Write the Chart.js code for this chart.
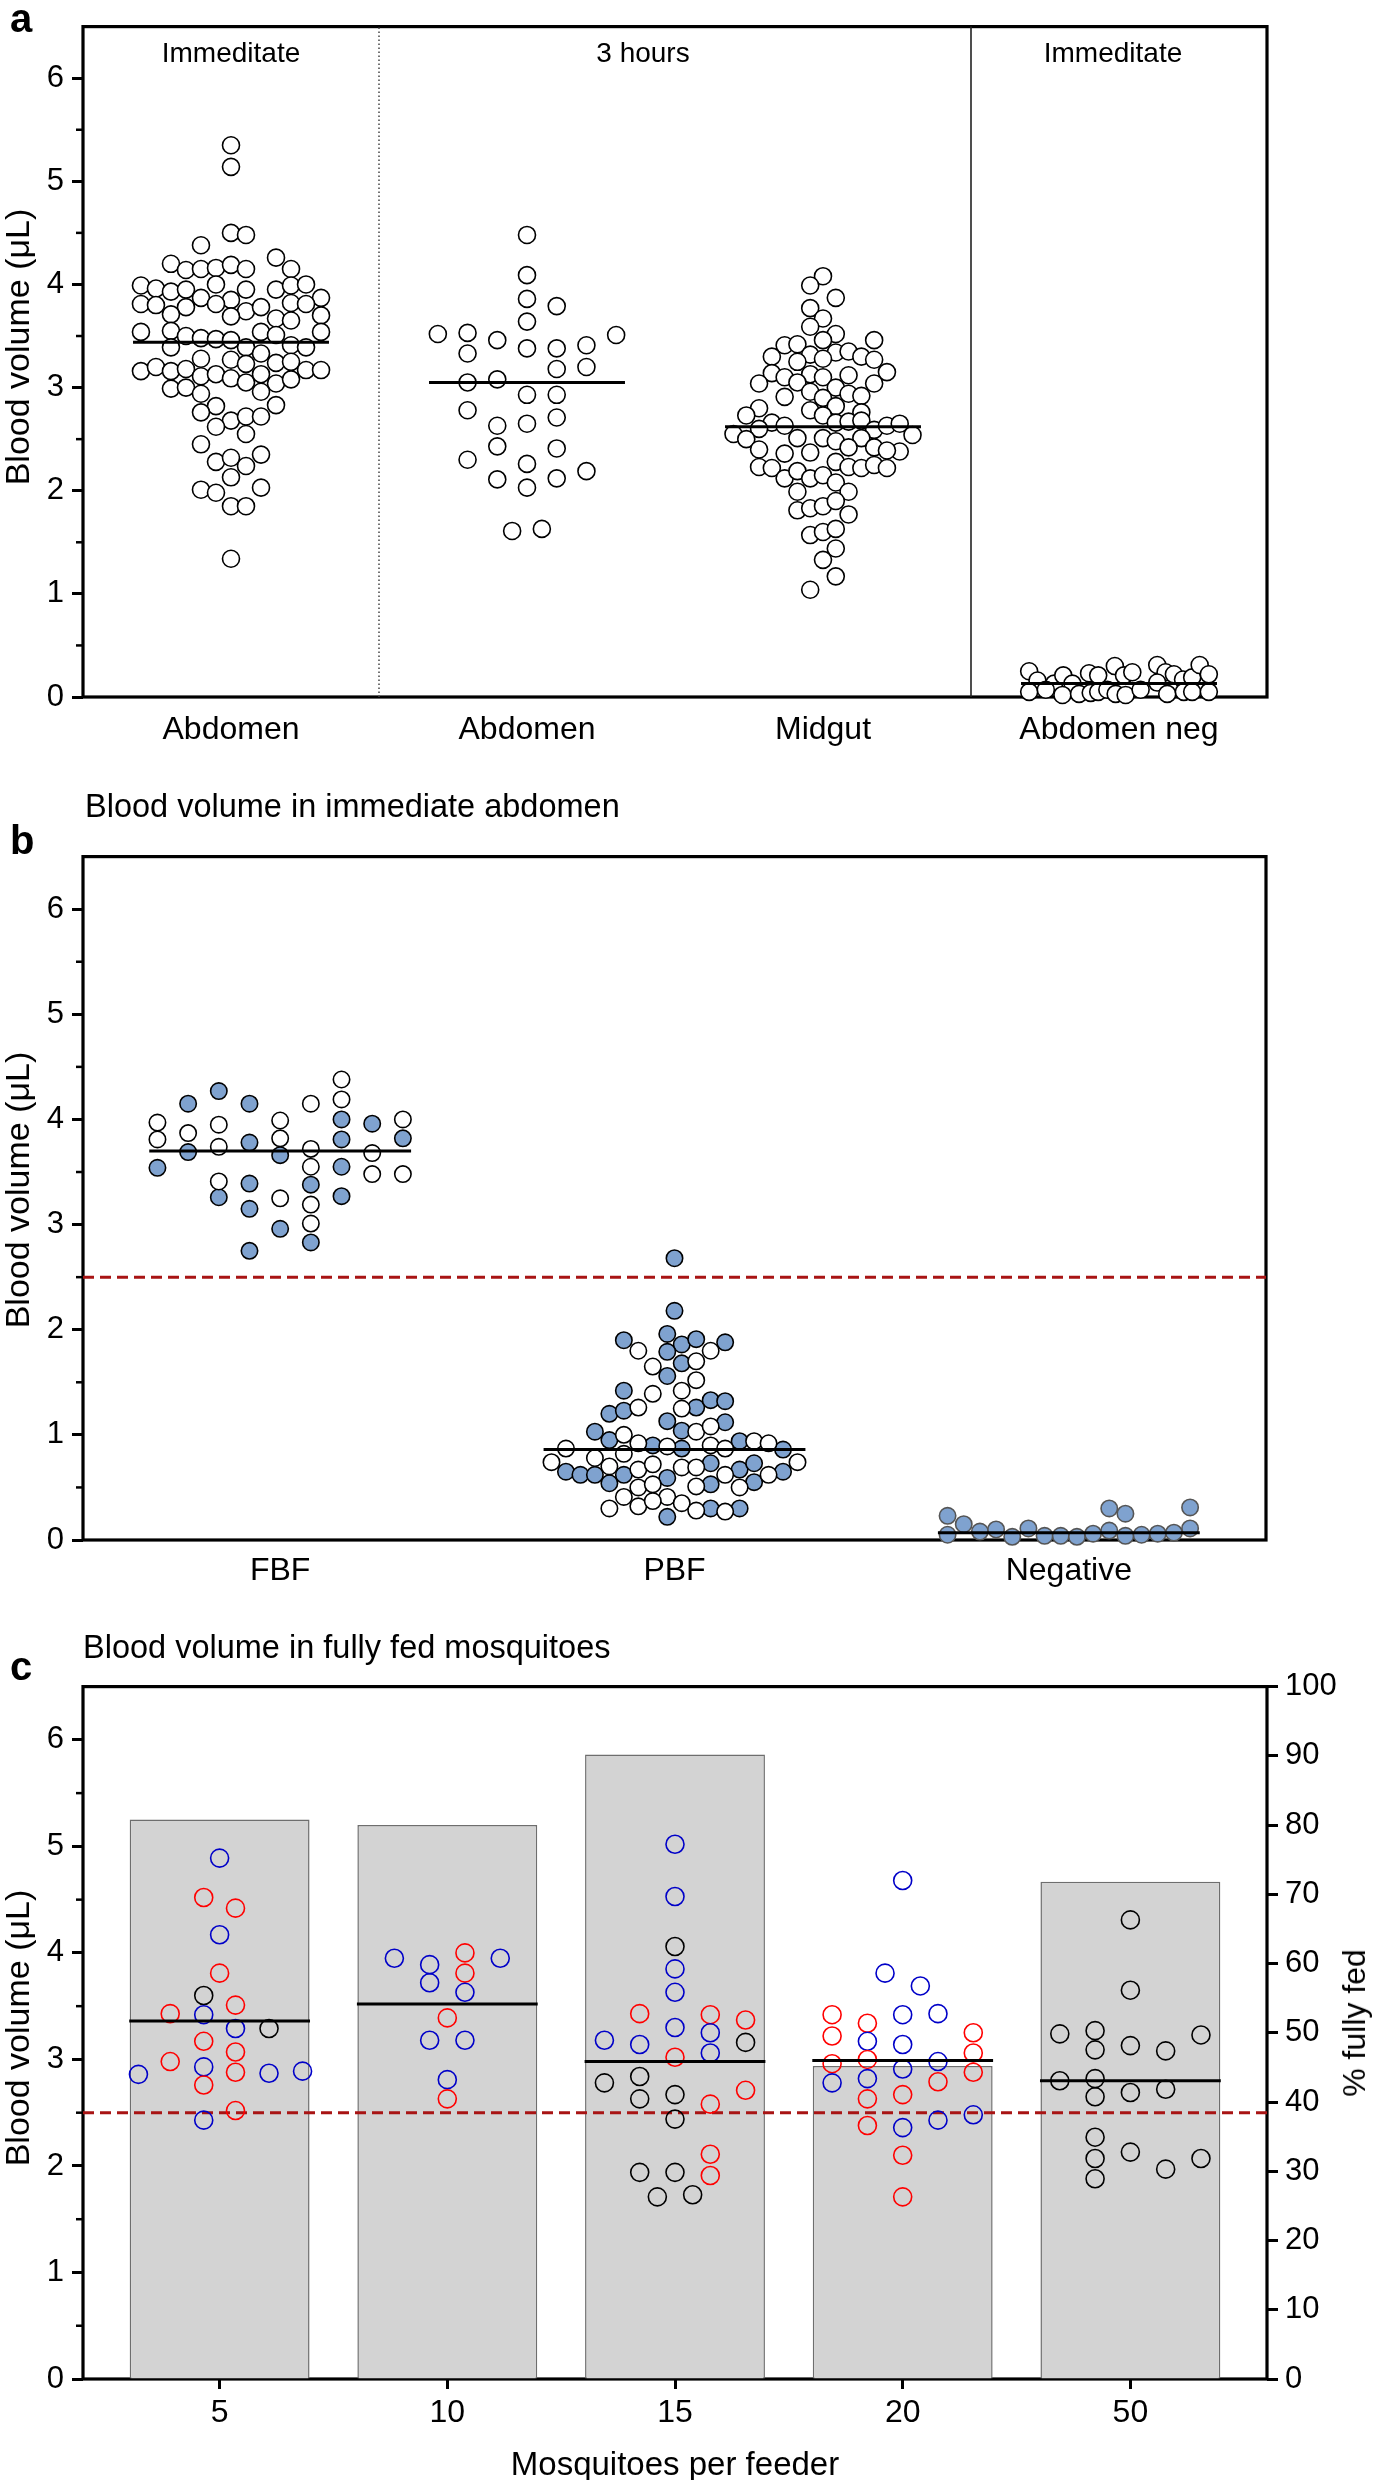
<!DOCTYPE html>
<html>
<head>
<meta charset="utf-8">
<title>Blood volume</title>
<script src="https://cdn.jsdelivr.net/npm/chart.js@4.4.1/dist/chart.umd.min.js"></script>
<style>
html,body{margin:0;padding:0;background:#fff;}
body{position:relative;width:1375px;height:2480px;overflow:hidden;font-family:"Liberation Sans",Arial,Helvetica,sans-serif;color:#000;}
canvas{position:absolute;left:0;}
.t{position:absolute;white-space:nowrap;line-height:1;}
.c{transform:translateX(-50%);}
.panel{font-weight:bold;font-size:40px;}
.rot{transform:translate(-50%,-50%) rotate(-90deg);}
.ytitle{font-size:34px;}
</style>
</head>
<body>
<canvas id="chartA" width="1375" height="790" style="top:0px"></canvas>
<canvas id="chartB" width="1375" height="780" style="top:830px"></canvas>
<canvas id="chartC" width="1375" height="820" style="top:1660px"></canvas>

<div class="t panel" style="left:10px;top:-2px">a</div>
<div class="t c" style="left:231px;top:39px;font-size:28px">Immeditate</div>
<div class="t c" style="left:643px;top:39px;font-size:28px">3 hours</div>
<div class="t c" style="left:1113px;top:39px;font-size:28px">Immeditate</div>
<div class="t rot ytitle" style="left:17px;top:347px">Blood volume (μL)</div>

<div class="t" style="left:85px;top:790px;font-size:32.5px">Blood volume in immediate abdomen</div>
<div class="t panel" style="left:10px;top:820px">b</div>
<div class="t rot ytitle" style="left:17px;top:1190px">Blood volume (μL)</div>

<div class="t" style="left:83px;top:1631px;font-size:32.5px">Blood volume in fully fed mosquitoes</div>
<div class="t panel" style="left:10px;top:1646px">c</div>
<div class="t rot ytitle" style="left:17px;top:2028px">Blood volume (μL)</div>
<div class="t rot" style="left:1354px;top:2023px;font-size:32px">% fully fed</div>
<div class="t c" style="left:675px;top:2447px;font-size:33px">Mosquitoes per feeder</div>

<script>
// ================= DATA =================

const yTicks = [0,1,2,3,4,5,6];
const yMinor = [0.5,1.5,2.5,3.5,4.5,5.5];
const pctTicks = [0,10,20,30,40,50,60,70,80,90,100];
const cutoff = 2.5;

// panel a
const catsA = ["Abdomen","Abdomen","Midgut","Abdomen neg"];
const medA = [3.44,3.05,2.62,0.13];
const sepA = [1,3];

const abdImmVals = [5.35,5.14,4.50,4.48,4.38,4.26,4.20,4.14,4.15,4.16,4.19,4.15,4.15,
3.99,3.96,3.93,3.95,4.00,3.95,3.95,3.99,4.00,3.87,
3.81,3.80,3.87,3.85,3.82,3.81,3.78,3.71,3.81,3.74,3.78,3.69,3.67,3.65,3.70,
3.54,3.55,3.50,3.48,3.47,3.46,3.54,3.51,3.54,
3.39,3.39,3.41,3.39,
3.28,3.27,3.23,3.33,3.24,3.25,
3.16,3.20,3.16,3.18,3.11,3.13,3.09,3.05,3.13,3.04,3.08,3.17,3.17,
2.99,3.00,2.94,2.96,
2.82,2.83,2.76,2.68,2.72,2.72,2.62,2.55,
2.45,2.28,2.32,2.24,2.35,2.13,2.01,1.98,2.03,1.85,1.85,1.34];
const abdImmSlots = [0,0,0,1,-2,3,-4,-3,-2,-1,0,1,4,
-6,-5,-4,-3,-1,1,3,4,5,6,
-6,-5,-2,0,4,5,-3,-4,-1,1,2,0,3,4,6,
-6,-4,-3,-2,-1,0,2,3,6,
-4,1,4,5,
-2,0,1,2,3,4,
-6,-5,-4,-3,-2,-1,0,1,2,3,4,5,6,
-4,-3,-2,2,
-1,3,-2,0,1,2,-1,1,
-2,-1,0,1,2,0,-2,-1,2,0,1,0];

const abd3hVals = [4.48,4.09,3.86,3.79,3.64,3.52,3.53,3.51,3.46,3.38,3.38,3.41,3.33,3.18,3.20,3.05,3.08,
2.93,2.93,2.78,2.71,2.63,2.65,2.43,2.41,2.30,2.26,2.11,2.12,2.19,2.03,1.61,1.63];
const abd3hSlots = [0,0,0,2,0,-6,-4,6,-2,0,2,4,-4,2,4,-4,-2,0,2,-4,2,-2,0,-2,2,-4,0,-2,2,4,0,-1,1];

const midgutVals = [4.08,3.99,3.87,3.77,3.67,3.59,3.52,3.46,3.46,3.41,
3.42,3.30,3.32,3.34,3.35,3.30,3.27,3.25,3.28,3.14,
3.10,3.13,3.10,3.12,3.15,3.04,3.05,3.00,3.04,2.96,
2.94,2.92,2.91,2.90,2.80,2.78,2.82,2.73,2.76,2.73,
2.66,2.63,2.66,2.67,2.68,2.59,2.63,2.65,2.55,2.60,
2.51,2.51,2.50,2.48,2.51,2.54,2.40,2.36,2.37,2.42,
2.42,2.38,2.39,2.23,2.22,2.28,2.23,2.22,2.25,2.22,
2.12,2.19,2.12,2.15,2.08,1.99,1.99,1.81,1.83,1.85,
1.90,1.77,1.57,1.60,1.63,1.44,1.33,1.17,1.04];
const midgutSlots = [0,-1,1,-1,0,-1,1,0,4,-3,
-2,-4,-1,1,2,3,4,-2,0,-4,
-3,-1,0,2,5,-5,-2,1,4,-1,
2,3,-3,0,-5,-1,1,0,3,-6,
-4,-3,1,2,3,4,5,6,-7,-5,
-2,0,-6,1,3,7,-5,-3,-1,2,
4,6,5,-5,-4,1,2,3,4,5,
-3,-2,-1,0,1,-2,2,-2,-1,0,
1,2,-1,0,1,1,0,1,-1];

const abdNegVals = [0.25,0.16,0.13,0.21,0.13,0.23,0.21,0.30,0.21,0.24,0.31,0.24,0.22,0.17,0.19,0.31,0.22,
0.05,0.07,0.02,0.03,0.04,0.05,0.07,0.03,0.02,0.07,0.14,0.03,0.05,0.05,0.05];
const abdNegSlots = [-10.8,-9.8,-7.8,-6.7,-5.6,-3.6,-2.5,-0.5,0.6,1.6,4.6,5.6,6.6,7.7,8.8,9.7,10.8,
-10.8,-8.8,-6.8,-4.8,-3.4,-2.5,-1.4,-0.4,0.8,2.6,4.6,5.8,7.8,8.8,10.8];

// panel b
const catsB = ["FBF","PBF","Negative"];
const medB = [3.70,0.86,0.07];

const fbfOpenVals = [3.97,3.81,3.87,3.95,3.74,3.41,3.99,3.82,3.25,4.15,3.72,3.55,3.19,3.01,4.38,4.19,3.68,3.48,4.00,3.48];
const fbfOpenSlots = [-4,-4,-3,-2,-2,-2,0,0,0,1,1,1,1,1,2,2,3,3,4,4];
const fbfBlueVals = [3.54,4.15,3.69,4.27,3.26,4.15,3.78,3.39,3.15,2.75,3.66,2.96,3.38,2.83,4.00,3.81,3.55,3.27,3.96,3.82];
const fbfBlueSlots = [-4,-3,-3,-2,-2,-1,-1,-1,-1,-1,0,0,1,1,2,2,2,2,3,4];

const pbfBlueVals = [2.68,2.18,1.90,1.96,1.86,1.91,1.88,1.79,1.68,1.56,
1.42,1.20,1.23,1.26,1.33,1.32,1.03,0.95,1.13,1.04,
1.12,0.90,0.87,0.94,0.86,0.65,0.62,0.62,0.54,0.62,
0.59,0.73,0.53,0.67,0.73,0.55,0.65,0.22,0.30,0.30];
const pbfBlueSlots = [0,0,-3.5,-0.5,0.5,1.5,3.5,-0.5,0.5,-0.5,
-3.5,-4.5,-3.5,1.5,2.5,3.5,-5.5,-4.5,-0.5,0.5,
3.5,-1.5,0.5,4.5,7.5,-7.5,-6.5,-5.5,-4.5,-3.5,
-0.5,2.5,2.5,4.5,5.5,5.5,7.5,-0.5,2.5,4.5];
const pbfOpenVals = [1.80,1.80,1.65,1.70,1.52,1.39,1.42,1.26,1.25,1.00,
0.92,1.03,1.08,0.87,0.89,0.90,0.87,0.94,0.92,0.74,
0.78,0.70,0.82,0.67,0.50,0.72,0.53,0.41,0.69,0.35,
0.69,0.51,0.62,0.50,0.62,0.74,0.30,0.41,0.32,0.37,
0.28,0.27];
const pbfOpenSlots = [-2.5,2.5,-1.5,1.5,1.5,-1.5,0.5,-2.5,0.5,-3.5,
-2.5,1.5,2.5,-7.5,-0.5,2.5,3.5,5.5,6.5,-8.5,
-5.5,-4.5,-3.5,-2.5,-2.5,-1.5,-1.5,-0.5,0.5,0.5,
1.5,1.5,3.5,4.5,6.5,8.5,-4.5,-3.5,-2.5,-1.5,
1.5,3.5];

const negBVals = [0.23,0.05,0.15,0.08,0.10,0.03,0.11,0.04,0.04,0.03,0.06,0.09,0.30,0.25,0.04,0.05,0.06,0.07,0.31,0.11];
const negBSlots = [-7.5,-7.5,-6.5,-5.5,-4.5,-3.5,-2.5,-1.5,-0.5,0.5,1.5,2.5,2.5,3.5,3.5,4.5,5.5,6.5,7.5,7.5];

// panel c  (rep: r / b / k = replicate feeding)
const feeders = ["5","10","15","20","50"];
const pctFed = [80.8,80.0,90.2,45.2,71.8];
const medC = [3.36,3.52,2.98,2.99,2.80];

const c5Vals = [4.89,4.52,4.42,4.17,3.81,3.60,3.43,3.42,3.51,3.29,3.29,3.17,3.07,2.98,2.93,2.88,2.86,2.87,2.89,2.76,2.52,2.43];
const c5Slots = [0,-0.9,0.9,0,0,-0.9,-2.8,-0.9,0.9,0.9,2.8,-0.9,0.9,-2.8,-0.9,0.9,-4.6,2.8,4.7,-0.9,0.9,-0.9];
const c5Reps = "brrbrkrbrbkrrrbrbbbrrb";

const c10Vals = [3.95,3.89,3.72,4.00,3.81,3.63,3.95,3.39,3.18,3.18,2.81,2.63];
const c10Slots = [-3,-1,-1,1,1,1,3,0,-1,1,0,0];
const c10Reps = "bbbrrbbrbbbr";

const c15Vals = [3.18,2.78,3.43,3.14,2.84,2.63,1.94,1.71,5.02,4.53,4.06,3.85,3.63,3.30,3.02,2.67,2.44,1.94,1.73,3.42,3.25,3.06,2.58,2.11,1.91,3.37,3.16,2.71];
const c15Slots = [-4,-4,-2,-2,-2,-2,-2,-1,0,0,0,0,0,0,0,0,0,0,1,2,2,2,2,2,2,4,4,4];
const c15Reps = "bkrbkkkkbbkbbbrkkkkrbbrrrrkr";

const c20Vals = [3.42,3.22,2.96,2.78,3.34,3.17,3.00,2.82,2.63,2.38,3.81,4.68,3.42,3.14,2.91,2.67,2.36,2.10,1.71,3.69,3.43,2.98,2.79,2.43,3.25,3.06,2.88,2.48];
const c20Slots = [-4,-4,-4,-4,-2,-2,-2,-2,-2,-2,-1,0,0,0,0,0,0,0,0,1,2,2,2,2,4,4,4,4];
const c20Reps = "rrrbrbrbrrbbbbbrbrrbbbrbrrrb";

const c50Vals = [3.24,2.80,3.27,3.09,2.82,2.65,2.27,2.07,1.88,4.31,3.65,3.13,2.69,2.13,3.08,2.72,1.97,3.23,2.07];
const c50Slots = [-4,-4,-2,-2,-2,-2,-2,-2,-2,0,0,0,0,0,2,2,2,4,4];
const c50Reps = "kkkkkkkkkkkkkkkkkkk";

// ================= HELPERS =================

const FONT = '"Liberation Sans", Arial, Helvetica, sans-serif';
Chart.defaults.font.family = FONT;
Chart.defaults.color = "#000";

const BLUE_FILL = "#7fa2cf";
const REP_COLOR = {r:"#ff0000", b:"#0000c8", k:"#000000"};

function swarm(cx, vals, slots, step){
return vals.map((v,i)=>({x: cx + slots[i]*step, y: v}));
}

function dots(data, fill, stroke, r){
return {type:"scatter", data, showLine:false, pointRadius:r, pointHoverRadius:r,
pointBackgroundColor:fill, pointBorderColor:stroke, pointBorderWidth:1.6, clip:false, order:0};
}

function seg(p0, p1, color, width, dash, order){
return {type:"line", data:[p0,p1], borderColor:color, borderWidth:width, borderDash:dash||[],
pointRadius:0, pointHoverRadius:0, clip:false, order};
}

const framePlugin = {
id:"frame",
beforeDatasetsDraw(chart){
const {ctx, chartArea:a} = chart;
const y = chart.scales.y;
ctx.save();
ctx.strokeStyle = "#000";
ctx.lineWidth = 3.2;
ctx.strokeRect(a.left, a.top, a.right-a.left, a.bottom-a.top);
ctx.lineWidth = 2.5;
yMinor.forEach(v=>{
const py = y.getPixelForValue(v);
ctx.beginPath();
ctx.moveTo(a.left-7, py);
ctx.lineTo(a.left, py);
ctx.stroke();
});
ctx.restore();
}
};

function yScale(){
return {type:"linear", position:"left", min:0, max:6.5,
afterBuildTicks: s=>{ s.ticks = yTicks.map(v=>({value:v})); },
afterFit: s=>{ s.width = 83; },
grid:{drawOnChartArea:false, drawTicks:true, tickLength:11, tickWidth:3, tickColor:"#000"},
border:{display:false},
ticks:{padding:8, font:{size:31}, color:"#000"}};
}

function xScale(min, max, pos, labels, height, tickLen, pad){
return {type:"linear", position:"bottom", min, max, offset:false,
afterBuildTicks: s=>{ s.ticks = pos.map(v=>({value:v})); },
afterFit: s=>{ s.height = height; },
grid: tickLen ? {offset:false, drawOnChartArea:false, drawTicks:true, tickLength:tickLen, tickWidth:3, tickColor:"#000"}
: {offset:false, display:false, drawTicks:false},
border:{display:false},
ticks:{autoSkip:false, maxRotation:0, minRotation:0, padding:pad, font:{size:32}, color:"#000",
callback:(v,i)=>labels[i]}};
}

function baseOptions(padTop, padRight, scales){
return {responsive:false, animation:false, events:[],
layout:{padding:{top:padTop, right:padRight, left:0, bottom:0}},
plugins:{legend:{display:false}, tooltip:{enabled:false}},
scales};
}

// ================= PANEL A =================

const posA = catsA.map((c,i)=>i+0.5);
const dsA = [
dots(swarm(posA[0], abdImmVals, abdImmSlots, 0.0507), "#fff", "#000", 8.5),
dots(swarm(posA[1], abd3hVals, abd3hSlots, 0.0502), "#fff", "#000", 8.5),
dots(swarm(posA[2], midgutVals, midgutSlots, 0.0432), "#fff", "#000", 8.5),
dots(swarm(posA[3], abdNegVals, abdNegSlots, 0.0281), "#fff", "#000", 8.5),
seg({x:sepA[0],y:0},{x:sepA[0],y:6.5}, "#444", 1.5, [1.5,2.5], 5),
seg({x:sepA[1],y:0},{x:sepA[1],y:6.5}, "#222", 1.6, [], 5)
];
medA.forEach((m,i)=>dsA.push(seg({x:posA[i]-0.331,y:m},{x:posA[i]+0.331,y:m}, "#000", 3, [], -1)));

new Chart(document.getElementById("chartA"),{
type:"scatter",
data:{datasets:dsA},
options:baseOptions(2, 108, {x:xScale(0, 4, posA, catsA, 93, 0, 14), y:yScale()}),
plugins:[framePlugin]
});

// ================= PANEL B =================

const posB = catsB.map((c,i)=>i+0.5);
const dsB = [
dots(swarm(posB[0], fbfOpenVals, fbfOpenSlots, 0.0778), "#fff", "#000", 8.2),
dots(swarm(posB[0], fbfBlueVals, fbfBlueSlots, 0.0778), BLUE_FILL, "#000", 8.2),
dots(swarm(posB[1], pbfOpenVals, pbfOpenSlots, 0.0367), "#fff", "#000", 8.2),
dots(swarm(posB[1], pbfBlueVals, pbfBlueSlots, 0.0367), BLUE_FILL, "#000", 8.2),
dots(swarm(posB[2], negBVals, negBSlots, 0.0410), BLUE_FILL, "#555", 8.2),
seg({x:0,y:cutoff},{x:3,y:cutoff}, "#a81414", 3, [11,6], 5)
];
medB.forEach((m,i)=>dsB.push(seg({x:posB[i]-0.332,y:m},{x:posB[i]+0.332,y:m}, "#000", 3, [], -1)));

new Chart(document.getElementById("chartB"),{
type:"scatter",
data:{datasets:dsB},
options:baseOptions(15, 109, {x:xScale(0, 3, posB, catsB, 70, 0, 12), y:yScale()}),
plugins:[framePlugin]
});

// ================= PANEL C =================

const posC = feeders.map((f,i)=>i);
const groupsC = [
[c5Vals, c5Slots, c5Reps],
[c10Vals, c10Slots, c10Reps],
[c15Vals, c15Slots, c15Reps],
[c20Vals, c20Slots, c20Reps],
[c50Vals, c50Slots, c50Reps]
];

const dsC = [{
type:"bar", yAxisID:"y1",
data: pctFed.map((p,i)=>({x:posC[i], y:p})),
backgroundColor:"#d3d3d3", borderColor:"#6e6e6e", borderWidth:1.5,
barPercentage:0.79, categoryPercentage:1, order:10
},
seg({x:-0.6,y:cutoff},{x:4.6,y:cutoff}, "#a81414", 3, [11,6], 5)
];
groupsC.forEach((g,i)=>{
const d = dots(swarm(posC[i], g[0], g[1], 0.0775), "rgba(0,0,0,0)", g[2].split("").map(c=>REP_COLOR[c]), 9);
dsC.push(d);
});
medC.forEach((m,i)=>dsC.push(seg({x:posC[i]-0.397,y:m},{x:posC[i]+0.397,y:m}, "#000", 3, [], -1)));

new Chart(document.getElementById("chartC"),{
type:"scatter",
data:{datasets:dsC},
options:baseOptions(23, 0, {
x:xScale(-0.6, 4.6, posC, feeders, 101, 10, 5),
y:yScale(),
y1:{type:"linear", position:"right", min:0, max:100,
afterBuildTicks: s=>{ s.ticks = pctTicks.map(v=>({value:v})); },
afterFit: s=>{ s.width = 108; },
grid:{drawOnChartArea:false, drawTicks:true, tickLength:11, tickWidth:3, tickColor:"#000"},
border:{display:false},
ticks:{padding:7, font:{size:31}, color:"#000"}}
}),
plugins:[framePlugin]
});
</script>
</body>
</html>
